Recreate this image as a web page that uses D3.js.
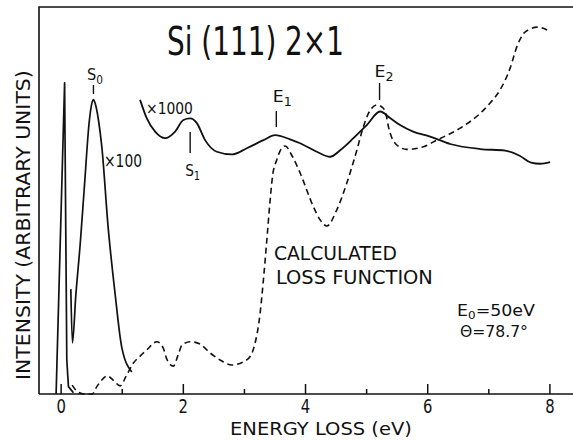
<!DOCTYPE html>
<html>
<head>
<meta charset="utf-8">
<script src="https://cdn.jsdelivr.net/npm/d3@7"></script>
<style>
  html, body { margin: 0; padding: 0; background: #fff; }
  svg { display: block; }
  text { font-family: 'DejaVu Sans', 'Liberation Sans', sans-serif; fill: #111; }
</style>
</head>
<body>
<svg id="chart" width="573" height="440"></svg>
<script>
// ---------------- data (energy loss in eV, intensity in arbitrary units) ----------------
const majorTicks = [0, 2, 4, 6, 8];
const minorTicks = [1, 3, 5, 7];
const tickLabels = ["0", "2", "4", "6", "8"];

// elastic (specular) peak, x1
const elasticPeak = [
  [-0.074, 0], [0.065, 80.4], [0.101, 8.8], [0.128, 1.9], [0.21, 0.3]
];

// measured spectrum, x100
const spectrumX100 = [
  [0.167, 27.1], [0.193, 13.2], [0.249, 25.6], [0.319, 38.5], [0.385, 52.7],
  [0.471, 70.8], [0.511, 75.1], [0.537, 76.1], [0.565, 75.1], [0.619, 70.8],
  [0.674, 63.9], [0.777, 43.2], [0.890, 26.1], [1.000, 12.1], [1.165, 5.7]
];

// measured spectrum, x1000
const spectrumX1000 = [
  [1.301, 76.0], [1.411, 71.2], [1.547, 67.8], [1.710, 66.1], [1.874, 67.8],
  [2.010, 70.8], [2.119, 71.2], [2.229, 70.0], [2.365, 65.6], [2.556, 62.6],
  [2.802, 61.9], [3.047, 63.5], [3.319, 65.6], [3.511, 66.9], [3.756, 65.8],
  [3.920, 64.8], [4.193, 62.6], [4.411, 61.3], [4.575, 63.0], [4.792, 66.1],
  [5.011, 69.5], [5.229, 73.0], [5.393, 71.3], [5.556, 69.5], [5.769, 67.8],
  [6.047, 66.5], [6.375, 64.6], [6.866, 63.3], [7.275, 62.9], [7.520, 61.5],
  [7.700, 59.8], [7.850, 59.5], [8.011, 59.9]
];

// calculated loss function (dashed)
const calculatedLoss = [
  [0.188, 2.3], [0.286, 0.5], [0.401, 0.0], [0.516, 0.0], [0.592, 1.9],
  [0.663, 3.4], [0.766, 4.7], [0.859, 3.6], [0.974, 2.1], [1.072, 4.6],
  [1.191, 8.0], [1.301, 9.8], [1.411, 11.4], [1.574, 13.5], [1.678, 11.9],
  [1.743, 8.8], [1.846, 7.2], [1.923, 10.1], [1.989, 12.7], [2.119, 13.5],
  [2.283, 12.9], [2.447, 10.6], [2.610, 8.8], [2.802, 7.5], [3.047, 8.8],
  [3.167, 12.2], [3.265, 20.9], [3.319, 29.5], [3.375, 39.8], [3.429, 50.1],
  [3.470, 56.5], [3.538, 60.5], [3.592, 62.8], [3.675, 64.1], [3.789, 61.5],
  [3.920, 57.1], [4.137, 48.4], [4.247, 45.0], [4.357, 43.4], [4.520, 47.6],
  [4.684, 54.5], [4.848, 63.0], [4.956, 69.1], [5.038, 72.5], [5.175, 74.7],
  [5.278, 73.9], [5.327, 72.1], [5.365, 69.1], [5.474, 64.8], [5.666, 63.2],
  [5.938, 63.9], [6.157, 65.6], [6.539, 68.7], [6.866, 72.5], [7.029, 75.2],
  [7.193, 78.6], [7.357, 84.2], [7.471, 89.9], [7.569, 93.0], [7.684, 94.3],
  [7.799, 94.8], [7.930, 94.3], [8.011, 93.6]
];

// labelled features
const featureMain = ["S", "S", "E", "E"];
const featureSub = ["0", "1", "1", "2"];
const featureEnergy = [0.537, 2.12, 3.53, 5.22];

// ---------------- drawing ----------------
const plotLeft = 39, plotRight = 573, plotTop = 7, plotBottom = 394;
const svg = d3.select("#chart");
const ink = "#111";

const x = d3.scaleLinear().domain([-0.354, 8.386]).range([plotLeft, plotRight]);
const y = d3.scaleLinear().domain([0, 100]).range([plotBottom, plotTop]);

// squeeze a text horizontally (the original uses a narrow plotter lettering)
function fitText(sel, tx, ty, width, rot) {
  const n = sel.node().getComputedTextLength();
  const s = width / n;
  sel.attr("x", 0).attr("y", 0)
    .attr("transform", `translate(${tx},${ty})${rot ? ` rotate(${rot})` : ""} scale(${s},1)`);
  return sel;
}

// frame: left, top
svg.append("path")
  .attr("d", `M${plotRight},${plotTop}H${plotLeft}V${plotBottom}`)
  .attr("fill", "none").attr("stroke", ink).attr("stroke-width", 1.6);

// x axis (ticks pointing inward)
const xAxis = d3.axisBottom(x)
  .tickValues(majorTicks)
  .tickFormat((d, i) => tickLabels[i])
  .tickSizeInner(-10).tickSizeOuter(0).tickPadding(0);
const gx = svg.append("g").attr("transform", `translate(0,${plotBottom})`).call(xAxis);
gx.select(".domain").attr("d", `M${plotLeft},0H${plotRight}`).attr("stroke", ink).attr("stroke-width", 1.6);
gx.selectAll(".tick line").attr("stroke", ink).attr("stroke-width", 1.5);
gx.selectAll(".tick text").attr("font-size", 19).attr("fill", ink)
  .attr("y", 0).attr("dy", null)
  .attr("transform", "translate(0,19) scale(0.78,1)")
  .style("font-family", "'DejaVu Sans', sans-serif");
const xMinor = d3.axisBottom(x).tickValues(minorTicks).tickFormat("").tickSizeInner(-5).tickSizeOuter(0);
const gm = svg.append("g").attr("transform", `translate(0,${plotBottom})`).call(xMinor);
gm.select(".domain").remove();
gm.selectAll(".tick line").attr("stroke", ink).attr("stroke-width", 1.5);

// curves
const line = d3.line().x(d => x(d[0])).y(d => y(d[1])).curve(d3.curveMonotoneX);
const lineLin = d3.line().x(d => x(d[0])).y(d => y(d[1]));

svg.append("path").datum(elasticPeak).attr("d", lineLin)
  .attr("fill", "none").attr("stroke", ink).attr("stroke-width", 1.7).attr("stroke-linejoin", "round");
svg.append("path").datum(spectrumX100).attr("d", line)
  .attr("fill", "none").attr("stroke", ink).attr("stroke-width", 1.7);
svg.append("path").datum(spectrumX1000).attr("d", line)
  .attr("fill", "none").attr("stroke", ink).attr("stroke-width", 1.8);
svg.append("path").datum(calculatedLoss).attr("d", line)
  .attr("fill", "none").attr("stroke", ink).attr("stroke-width", 1.6)
  .attr("stroke-dasharray", "6,4");

// feature markers
const markerLayout = [
  { y1: 85, y2: 94, ty: 80, dx: -6.5, w: 16 },
  { y1: 132, y2: 153, ty: 175.5, dx: -5, w: 15 },
  { y1: 111, y2: 127, ty: 101.5, dx: -3.5, w: 19 },
  { y1: 83, y2: 100, ty: 76.5, dx: -5, w: 19 }
];
featureEnergy.forEach((e, i) => {
  const L = markerLayout[i];
  svg.append("line").attr("x1", x(e)).attr("x2", x(e)).attr("y1", L.y1).attr("y2", L.y2)
    .attr("stroke", ink).attr("stroke-width", 1.4);
  const t = svg.append("text").attr("font-size", 16.5);
  t.append("tspan").text(featureMain[i]);
  t.append("tspan").attr("dy", 4).attr("font-size", 12).text(featureSub[i]);
  fitText(t, x(e) + L.dx, L.ty, L.w);
});

// texts
fitText(svg.append("text").attr("font-size", 39).text("Si (111) 2×1"), 167, 55, 177);
fitText(svg.append("text").attr("font-size", 18).text("×100"), 104, 166.5, 38);
fitText(svg.append("text").attr("font-size", 16).text("×1000"), 146, 113.5, 47);
fitText(svg.append("text").attr("font-size", 19.5).text("CALCULATED"), 274, 259.5, 123);
fitText(svg.append("text").attr("font-size", 19.5).text("LOSS FUNCTION"), 276, 284, 157);

const e0 = svg.append("text").attr("font-size", 16);
e0.append("tspan").text("E");
e0.append("tspan").attr("dy", 2.5).attr("font-size", 11).text("0");
e0.append("tspan").attr("dy", -2.5).text("=50eV");
fitText(e0, 457, 316, 78);
fitText(svg.append("text").attr("font-size", 15.5).text("Θ=78.7°"), 460, 336.5, 68);

fitText(svg.append("text").attr("font-size", 18).text("ENERGY LOSS (eV)"), 230, 435, 182);
fitText(svg.append("text").attr("font-size", 20).text("INTENSITY (ARBITRARY UNITS)"), 30, 380, 310, -90);
</script>
</body>
</html>
